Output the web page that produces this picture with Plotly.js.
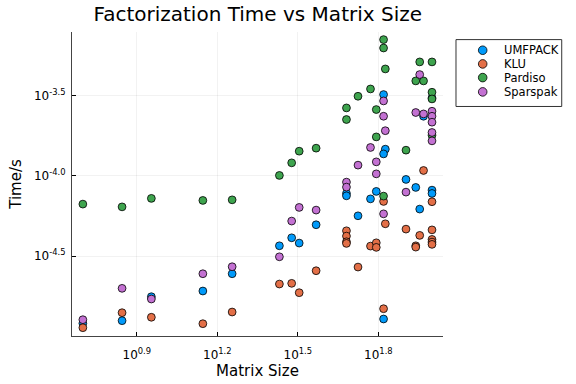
<!DOCTYPE html>
<html><head><meta charset="utf-8">
<script src="https://cdn.plot.ly/plotly-3.0.1.min.js"></script>
<style>html,body{margin:0;padding:0;background:#fff}</style>
</head><body><div id="chart" style="width:576px;height:384px"></div>
<script>
const seriesNames = ['UMFPACK', 'KLU', 'Pardiso', 'Sparspak'];
const seriesColors = ['#009AFA', '#E36F47', '#3EA44E', '#C371D2'];

const umfpackSize = [5,7,9,14,18,27,30,32,37,48,48,67,66,80,87,62,59,100,100,90,53,66,93,100,66];
const umfpackTime = [1.208e-5,1.254e-5,1.768e-5,1.919e-5,2.458e-5,3.67e-5,4.115e-5,3.815e-5,4.96e-5,7.77e-5,7.51e-5,1.466e-4,1.370e-4,9.50e-5,8.47e-5,8.00e-5,7.19e-5,8.15e-5,7.77e-5,6.21e-5,5.64e-5,3.208e-4,2.35e-4,3.055e-4,1.285e-5];

const kluSize = [5,7,9,14,18,27,30,32,37,48,48,48,48,67,80,90,100,100,100,100,87,87,59,62,62,53,66,93,66,100];
const kluTime = [1.134e-5,1.406e-5,1.317e-5,1.201e-5,1.42e-5,2.121e-5,2.142e-5,1.873e-5,2.566e-5,4.55e-5,4.217e-5,3.886e-5,3.798e-5,5.03e-5,4.66e-5,4.26e-5,4.61e-5,4.02e-5,3.87e-5,3.745e-5,3.67e-5,3.60e-5,3.653e-5,3.83e-5,3.587e-5,2.705e-5,1.489e-5,1.08e-4,6.93e-5,6.90e-5];

const pardisoSize = [5,7,9,14,18,27,30,32,37,48,48,53,59,62,62,66,66,67,80,87,90,93,100,100,100,66,100];
const pardisoTime = [6.67e-5,6.41e-5,7.24e-5,7.03e-5,7.09e-5,1.006e-4,1.205e-4,1.424e-4,1.487e-4,2.648e-4,2.242e-4,3.130e-4,3.475e-4,2.587e-4,1.748e-4,7.05e-4,6.25e-4,4.63e-4,1.445e-4,3.90e-4,5.12e-4,3.90e-4,5.12e-4,3.315e-4,3.012e-4,7.48e-5,1.791e-4];

const sparspakSize = [5,7,9,14,18,27,30,32,37,48,48,90,66,66,87,93,100,100,100,67,100,100,59,62,53,62,80,66];
const sparspakTime = [1.272e-5,1.994e-5,1.711e-5,2.458e-5,2.717e-5,3.134e-5,5.23e-5,6.36e-5,6.12e-5,9.14e-5,8.51e-5,4.27e-4,2.927e-4,2.35e-4,2.479e-4,2.43e-4,2.525e-4,2.35e-4,2.158e-4,1.91e-4,1.862e-4,1.651e-4,1.502e-4,1.222e-4,1.166e-4,1.029e-4,7.92e-5,5.80e-5];

const xTickVals = [7.943, 15.849, 31.623, 63.096];
const xTickText = ['10<sup>0.9</sup>', '10<sup>1.2</sup>', '10<sup>1.5</sup>', '10<sup>1.8</sup>'];
const yTickVals = [3.1623e-5, 1e-4, 3.1623e-4];
const yTickText = ['10<sup>-4.5</sup>', '10<sup>-4.0</sup>', '10<sup>-3.5</sup>'];

const xs = [umfpackSize, kluSize, pardisoSize, sparspakSize];
const ys = [umfpackTime, kluTime, pardisoTime, sparspakTime];

const FONT = 'DejaVu Sans, sans-serif';
const traces = seriesNames.map((n, i) => ({
  type: 'scatter', mode: 'markers', name: n, x: xs[i], y: ys[i],
  marker: {color: seriesColors[i], size: 7.8, line: {color: '#000', width: 0.8}},
  showlegend: false, hoverinfo: 'skip'
}));

// custom legend (Plots.jl style box)
const shapes = [{type: 'rect', xref: 'paper', yref: 'paper', x0: 1.035, x1: 1.32, y0: 0.755, y1: 0.975,
  line: {color: '#333', width: 1}, fillcolor: '#fff'}];
const annotations = [];
const rowY = [0.94, 0.895, 0.85, 0.803];
seriesNames.forEach((n, i) => {
  shapes.push({type: 'circle', xref: 'paper', yref: 'paper', xsizemode: 'pixel', ysizemode: 'pixel',
    xanchor: 1.107, yanchor: rowY[i], x0: -4.3, x1: 4.3, y0: -4.3, y1: 4.3,
    fillcolor: seriesColors[i], line: {color: '#000', width: 0.8}});
  annotations.push({xref: 'paper', yref: 'paper', x: 1.158, y: rowY[i], xanchor: 'left', yanchor: 'middle',
    text: n, showarrow: false, font: {family: FONT, size: 11.5, color: '#000'}});
});

const axisCommon = {
  type: 'log', showline: true, linecolor: '#444', linewidth: 1, mirror: false,
  ticks: 'inside', ticklen: 4, tickcolor: '#000', tickwidth: 1,
  showgrid: true, gridcolor: 'rgba(0,0,0,0.1)', gridwidth: 0.5, zeroline: false,
  tickfont: {family: FONT, size: 12, color: '#000'}, tickmode: 'array'
};

const layout = {
  width: 576, height: 384,
  margin: {l: 72, r: 133, t: 32, b: 48},
  paper_bgcolor: '#fff', plot_bgcolor: '#fff',
  title: {text: 'Factorization Time vs Matrix Size', x: 0.4475, xanchor: 'center', y: 0.963, yanchor: 'middle',
    font: {family: FONT, size: 20, color: '#000'}},
  xaxis: Object.assign({}, axisCommon, {range: [0.6585, 2.041], tickvals: xTickVals, ticktext: xTickText,
    ticklabelstandoff: 8,
    title: {text: 'Matrix Size', font: {family: FONT, size: 15, color: '#000'}, standoff: 4}}),
  yaxis: Object.assign({}, axisCommon, {range: [-4.997, -3.1045], tickvals: yTickVals, ticktext: yTickText,
    ticklabelstandoff: 3,
    title: {text: 'Time/s', font: {family: FONT, size: 15, color: '#000'}, standoff: 8}}),
  shapes: shapes, annotations: annotations
};

Plotly.newPlot('chart', traces, layout, {displayModeBar: false, staticPlot: true});
</script></body></html>
